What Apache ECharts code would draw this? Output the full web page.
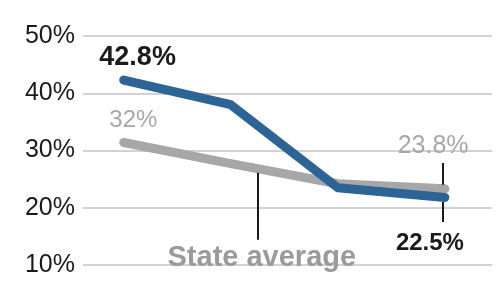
<!DOCTYPE html>
<html>
<head>
<meta charset="utf-8">
<script src="https://cdn.jsdelivr.net/npm/echarts@6/dist/echarts.min.js"></script>
<style>
html,body{margin:0;padding:0;background:#fff;}
#chart{width:502px;height:282px;}
</style>
</head>
<body>
<div id="chart"></div>
<script>
// Data
const periods = [0, 1, 2, 3];
const localValues = [42.3, 38.0, 23.5, 21.8];
const stateValues = [31.4, 27.7, 24.2, 23.3];
const yTicks = [10, 20, 30, 40, 50];

// Annotation labels (text, anchor in data space)
const annoText = ['42.8%', '32%', '23.8%', '22.5%', 'State average'];
const annoX = [0.13, 0.09, 2.89, 2.86, 1.29];
const annoY = [46.2, 35.3, 30.8, 13.7, 11.2];
// leader lines [x, y1, y2]
const leaderX = [1.256, 2.98, 2.98];
const leaderY1 = [26.1, 27.8, 21.0];
const leaderY2 = [14.4, 24.0, 17.5];

const FONT = '"Liberation Sans", Arial, sans-serif';
const BLUE = '#2d6496';
const GRAY = '#a7a7a9';
const DARK = '#1a1a1a';

const annoStyles = [
  {color: DARK, fontWeight: 'bold', fontSize: 27},
  {color: GRAY, fontWeight: 'normal', fontSize: 24},
  {color: GRAY, fontWeight: 'normal', fontSize: 25},
  {color: DARK, fontWeight: 'bold', fontSize: 24},
  {color: '#9a9a9c', fontWeight: 'bold', fontSize: 29}
];

const chart = echarts.init(document.getElementById('chart'));
chart.setOption({
  animation: false,
  grid: {left: 83, right: 10, top: 36, bottom: 17},
  xAxis: {
    type: 'value', min: -0.38, max: 3.44,
    show: false
  },
  yAxis: {
    type: 'value', min: yTicks[0], max: yTicks[yTicks.length - 1], interval: 10,
    axisLine: {show: false}, axisTick: {show: false},
    axisLabel: {
      formatter: v => v + '%', color: DARK, fontSize: 25, fontFamily: FONT, margin: 8
    },
    splitLine: {lineStyle: {color: '#d2d2d2', width: 2}}
  },
  series: [
    {
      type: 'line',
      data: [],
      z: 1,
      markLine: {
        silent: true,
        symbol: ['none', 'none'],
        label: {show: false},
        lineStyle: {color: DARK, width: 2, type: 'solid'},
        data: leaderX.map((x, i) => [{coord: [x, leaderY1[i]]}, {coord: [x, leaderY2[i]]}])
      }
    },
    {
      type: 'line',
      data: periods.map((p, i) => [p, stateValues[i]]),
      symbol: 'none',
      lineStyle: {color: GRAY, width: 9, cap: 'round', join: 'round'},
      z: 2
    },
    {
      type: 'line',
      data: periods.map((p, i) => [p, localValues[i]]),
      symbol: 'none',
      lineStyle: {color: BLUE, width: 9, cap: 'round', join: 'round'},
      z: 3
    },
    {
      type: 'scatter',
      symbolSize: 0,
      z: 5,
      itemStyle: {opacity: 1},
      data: annoText.map((t, i) => ({
        value: [annoX[i], annoY[i]],
        label: Object.assign({
          show: true, position: 'inside', formatter: t, fontFamily: FONT
        }, annoStyles[i])
      }))
    }
  ]
});
</script>
</body>
</html>
